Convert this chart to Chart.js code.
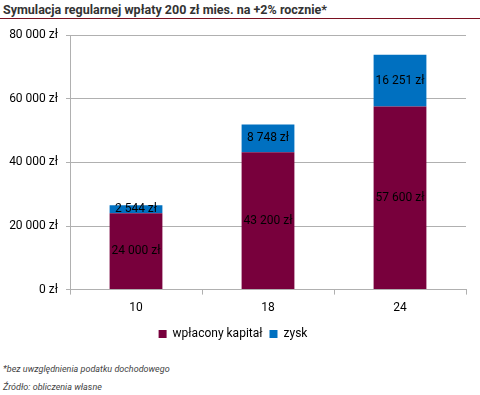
<!DOCTYPE html>
<html>
<head>
<meta charset="utf-8">
<script src="https://cdn.jsdelivr.net/npm/chart.js@4.4.0/dist/chart.umd.min.js"></script>
<style>
  body { margin: 0; width: 480px; height: 395px; background: #fff; font-family: Roboto, sans-serif; position: relative; overflow: hidden; }
  #title { position: absolute; left: 3px; top: 2px; font-size: 12.5px; font-weight: bold; color: #333; }
  #rule { position: absolute; left: 0; top: 18px; width: 480px; height: 0; border-top: 1px solid #7a1020; }
  #box { position: absolute; left: 0; top: 20px; width: 480px; height: 330px; }
  .note { position: absolute; left: 3px; font-size: 9px; font-style: italic; color: #444; }
</style>
</head>
<body>
<div id="title">Symulacja regularnej wpłaty 200 zł mies. na +2% rocznie*</div>
<div id="rule"></div>
<div id="box"><canvas id="chart" width="480" height="330"></canvas></div>
<div class="note" style="top:364px">*bez uwzględnienia podatku dochodowego</div>
<div class="note" style="top:382px">Źródło: obliczenia własne</div>
<script>
// lata oszczędzania
const years = ['10', '18', '24'];
const kapital = [24000, 43200, 57600];
const zysk = [2544, 8748, 16251];
const yTicks = [0, 20000, 40000, 60000, 80000];

const fmt = v => String(v).replace(/\B(?=(\d{3})+(?!\d))/g, ' ') + ' zł';
const FONT = 'Roboto, sans-serif';

// etykiety wartości na środku segmentów
const labelsPlugin = {
    id: 'segLabels',
    afterDatasetsDraw(chart) {
        const ctx = chart.ctx;
        ctx.save();
        ctx.font = '12px ' + FONT;
        ctx.fillStyle = '#000';
        ctx.textAlign = 'center';
        ctx.textBaseline = 'middle';
        chart.data.datasets.forEach((ds, i) => {
            chart.getDatasetMeta(i).data.forEach((bar, j) => {
                const y = (bar.y + bar.base) / 2;
                ctx.fillText(fmt(ds.data[j]), bar.x, y);
            });
        });
        ctx.restore();
    }
};

new Chart(document.getElementById('chart'), {
    type: 'bar',
    data: {
        labels: years,
        datasets: [
            { label: 'wpłacony kapitał', data: kapital, backgroundColor: '#78003c' },
            { label: 'zysk', data: zysk, backgroundColor: '#0070c0' }
        ]
    },
    options: {
        responsive: false,
        animation: false,
        layout: { padding: { top: 14, right: 14, left: 0, bottom: 0 } },
        datasets: { bar: { categoryPercentage: 0.4, barPercentage: 1 } },
        plugins: {
            legend: {
                position: 'bottom',
                labels: { boxWidth: 8, boxHeight: 8, font: { family: FONT, size: 12 }, color: '#000', padding: 7 }
            },
            tooltip: { enabled: false }
        },
        scales: {
            x: {
                stacked: true,
                grid: { display: true, drawOnChartArea: false, tickLength: 5, color: '#b0b0b0', offset: true },
                border: { color: '#b0b0b0' },
                ticks: { font: { family: FONT, size: 12 }, color: '#000', padding: 6 }
            },
            y: {
                stacked: true,
                min: 0,
                max: 80000,
                afterBuildTicks: s => { s.ticks = yTicks.map(v => ({ value: v })); },
                afterFit: s => { s.width = 70; },
                grid: { color: '#b0b0b0', tickLength: 4 },
                border: { color: '#b0b0b0' },
                ticks: { callback: v => fmt(v), font: { family: FONT, size: 12 }, color: '#000', padding: 8 }
            }
        }
    },
    plugins: [labelsPlugin]
});
</script>
</body>
</html>
